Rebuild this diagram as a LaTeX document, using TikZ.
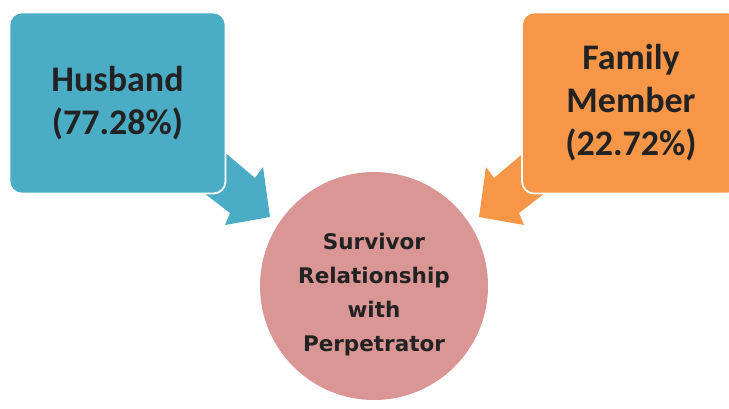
\documentclass[tikz,border=0pt]{standalone}
\usepackage{fontspec}
\setmainfont{Carlito}
\newfontfamily\circfont{DejaVu Sans}
\definecolor{hblue}{HTML}{4BACC6}
\definecolor{forange}{HTML}{F79646}
\definecolor{cpink}{HTML}{D99694}
\definecolor{txt}{HTML}{222222}
\begin{document}
\begin{tikzpicture}[x=1pt,y=-1pt,
  boxstyle/.style={draw=white, line width=1.8pt, rounded corners=12pt, inner sep=0pt,
    text=txt, align=center, font=\bfseries\fontsize{36}{43}\selectfont},
  blockarrow/.style={draw=none},
  circstyle/.style={circle, fill=cpink, draw=none, minimum size=228pt, inner sep=0pt},
  circtext/.style={text=txt, align=center, font=\circfont\bfseries\fontsize{21.5}{34}\selectfont}
]
\useasboundingbox (0,0) rectangle (729,408);
\clip (0,0) rectangle (729,408);
\fill[white] (0,0) rectangle (729,408);
% block arrows
\fill[hblue, blockarrow] (222,150) -- (255,178) -- (263,167) -- (270,217) -- (225,225) -- (230,213) -- (200,190) -- cycle;
\fill[forange, blockarrow] (527,150) -- (494,178) -- (486,167) -- (479,217) -- (524,225) -- (519,213) -- (549,190) -- cycle;
% boxes
\node[boxstyle, fill=hblue, minimum width=216pt, minimum height=181pt] (husband) at (117.5,103) {Husband\\(77.28\%)};
\node[boxstyle, fill=forange, minimum width=218pt, minimum height=181pt] (family) at (631,103) {Family\\Member\\(22.72\%)};
% circle
\node[circstyle] (survivor) at (374,286) {};
\node[circtext] (survivortext) at (374,295) {Survivor\\Relationship\\with\\Perpetrator};
\end{tikzpicture}
\end{document}
